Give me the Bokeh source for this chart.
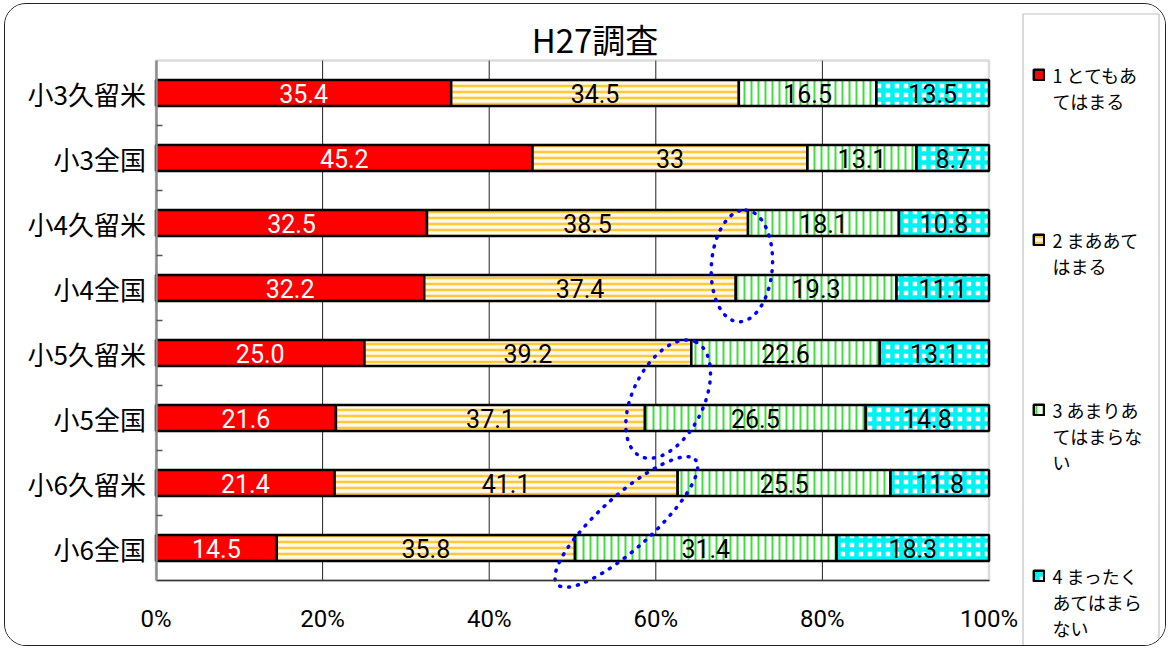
from bokeh.plotting import figure
from bokeh.models import (Range1d, FixedTicker, Legend, LegendItem, BoxAnnotation, Label)
from bokeh.core.properties import value
from bokeh.embed import file_html
from bokeh.resources import INLINE

# ---------------- data ----------------
title_text = "H27調査"
categories = ["小3久留米", "小3全国", "小4久留米", "小4全国",
              "小5久留米", "小5全国", "小6久留米", "小6全国"]
series_names = ["1 とてもあ\nてはまる",
                "2 まああて\nはまる",
                "3 あまりあ\nてはまらな\nい",
                "4 まったく\nあてはまら\nない"]
s1 = [35.4, 45.2, 32.5, 32.2, 25.0, 21.6, 21.4, 14.5]
s2 = [34.5, 33, 38.5, 37.4, 39.2, 37.1, 41.1, 35.8]
s3 = [16.5, 13.1, 18.1, 19.3, 22.6, 26.5, 25.5, 31.4]
s4 = [13.5, 8.7, 10.8, 11.1, 13.1, 14.8, 11.8, 18.3]
x_ticks = [0, 20, 40, 60, 80, 100]
x_tick_labels = ["0%", "20%", "40%", "60%", "80%", "100%"]
# pairs of neighbouring rows whose 2|3 boundary is circled (index of upper row)
highlight_rows = [2, 4, 6]

# ---------------- layout (canvas pixels) ----------------
W, H = 1162, 643
X0, X1 = 150.5, 983.5        # pixel of 0% and 100%
ROW0, PITCH = 88.5, 65       # centre of first row, row spacing
TITLE_XY = (589.5, 34.5)
LEG_BOX = (1017.5, 1153.5, 9.5, 642)     # left, right, top, bottom
LEG_X = 1026.5                            # legend swatch left
LEG_FIRST = [70.5, 235.5, 405.5, 571.5]   # centre of first line of each entry
LEG_LINE = 26
JP = "Noto Sans CJK JP"
NUM = "Roboto"
ellipse_shapes = [(112, 61, 86, -0.16), (127, 71, 64, -0.21), (186, 53, 42, -0.10)]

series = [s1, s2, s3, s4]
n = len(categories)
ypos = [n - 1 - i for i in range(n)]
totals = [sum(v[i] for v in series) for i in range(n)]
ppu = (X1 - X0) / 100.0


def dx(px):
    return (px - X0) / ppu


def dy(py):
    return (n - 1) - (py - ROW0) / PITCH


p = figure(width=W, height=H,
           x_range=Range1d(dx(0), dx(W)), y_range=Range1d(dy(H), dy(0)),
           output_backend="svg", toolbar_location=None, min_border=0)
p.styles = {"border": "1.5px solid #222", "border-radius": "22px", "overflow": "hidden",
            "margin-left": "4px", "margin-top": "3px"}
p.outline_line_color = None
p.xgrid.grid_line_color = None
p.ygrid.grid_line_color = None

# chart frame (top / right edges grey)
p.add_layout(BoxAnnotation(left=0, right=100, bottom=-0.5, top=n - 0.5, level="underlay",
                           fill_alpha=0, line_color="#8C8C8C", line_width=2.5))
grid_x = x_ticks[1:-1]
p.segment(x0=grid_x, x1=grid_x, y0=[-0.5] * len(grid_x), y1=[n - 0.5] * len(grid_x),
          line_color="#222222", line_width=1, level="underlay")

bar_styles = [
    dict(fill_color="#FF0000"),
    dict(fill_color="#FFF9E8", hatch_pattern="horizontal_line", hatch_color="#FFC83D",
         hatch_scale=6, hatch_weight=2.5),
    dict(fill_color="#FFFFFF", hatch_pattern="vertical_line", hatch_color="#3CE03C",
         hatch_scale=7, hatch_weight=2),
    dict(fill_color="#FFFFFF", hatch_pattern="cross", hatch_color="#00F2F2",
         hatch_scale=9, hatch_weight=4.5),
]
label_colors = ["#FFFFFF", "#000000", "#000000", "#000000"]

renderers = []
cum = [0.0] * n
bounds = []
for k, vals in enumerate(series):
    left = list(cum)
    right = [cum[i] + vals[i] / totals[i] * 100 for i in range(n)]
    cum = right
    bounds.append(right)
    r = p.hbar(y=ypos, left=left, right=right, height=0.4,
               line_color="#000000", line_width=2.5, **bar_styles[k])
    renderers.append(r)
    p.text(x=[(a + b) / 2 for a, b in zip(left, right)], y=ypos,
           text=[str(v) for v in vals],
           text_align="center", text_baseline="middle",
           text_font=value(NUM), text_font_size="25px",
           text_color=label_colors[k])

# dotted ellipses around the boundary between series 2 and 3
for (w, h, ang, ddy), i in zip(ellipse_shapes, highlight_rows):
    cx = (bounds[1][i] + bounds[1][i + 1]) / 2
    cy = (ypos[i] + ypos[i + 1]) / 2 + ddy
    p.ellipse(x=[cx], y=[cy], width=[w], height=[h], angle=[ang], angle_units="deg",
              width_units="screen", height_units="screen",
              fill_color=None, line_color="#0000FF", line_width=3.5,
              line_dash="1 8", line_cap="round")

# title
p.add_layout(Label(x=dx(TITLE_XY[0]), y=dy(TITLE_XY[1]), text=title_text,
                   text_align="center", text_baseline="middle",
                   text_font=JP, text_font_size="33px", text_color="#000000"))

# axes placed at the chart edges
p.xaxis.fixed_location = -0.5
p.xaxis.bounds = (0, 100)
p.xaxis.ticker = FixedTicker(ticks=x_ticks)
p.xaxis.major_label_overrides = {t: l for t, l in zip(x_ticks, x_tick_labels)}
p.xaxis.major_tick_in = 0
p.xaxis.major_tick_out = 0
p.xaxis.minor_tick_line_color = None
p.xaxis.major_label_standoff = 24
p.xaxis.major_label_text_font = NUM
p.xaxis.major_label_text_font_size = "24px"
p.xaxis.major_label_text_color = "#000000"
p.xaxis.axis_line_color = "#333333"
p.xaxis.axis_line_width = 1.5

p.yaxis.fixed_location = 0
p.yaxis.bounds = (-0.5, n - 0.5)
p.yaxis.ticker = FixedTicker(ticks=ypos, minor_ticks=[y + 0.5 for y in range(n - 1)])
p.yaxis.major_label_overrides = {ypos[i]: categories[i] for i in range(n)}
p.yaxis.major_tick_in = 0
p.yaxis.major_tick_out = 0
p.yaxis.minor_tick_in = 6
p.yaxis.minor_tick_out = 0
p.yaxis.minor_tick_line_color = "#555555"
p.yaxis.minor_tick_line_width = 1.5
p.yaxis.major_label_standoff = 10
p.yaxis.major_label_text_font = JP
p.yaxis.major_label_text_font_size = "26px"
p.yaxis.major_label_text_color = "#000000"
p.yaxis.axis_line_color = "#8C8C8C"
p.yaxis.axis_line_width = 2.5

# ---------------- legend ----------------
p.add_layout(BoxAnnotation(left=dx(LEG_BOX[0]), right=dx(LEG_BOX[1]),
                           top=dy(LEG_BOX[2]), bottom=dy(LEG_BOX[3]),
                           fill_alpha=0, line_color="#333333", line_width=1.2))
blank = p.hbar(y=[], left=[], right=[], height=0.1, fill_alpha=0, line_alpha=0)
ITEM_H = 26
for k, name in enumerate(series_names):
    for j, part in enumerate(name.split("\n")):
        centre = LEG_FIRST[k] + j * LEG_LINE
        lg = Legend(items=[LegendItem(label=part, renderers=[renderers[k] if j == 0 else blank])],
                    location=(LEG_X, H - centre - ITEM_H / 2),
                    border_line_color=None, background_fill_alpha=0,
                    padding=0, spacing=0, margin=0,
                    glyph_width=13, glyph_height=13, label_standoff=8,
                    label_height=ITEM_H,
                    label_text_font=JP, label_text_font_size="18px",
                    label_text_color="#000000")
        p.add_layout(lg)

open("out.html", "w").write(file_html(p, INLINE))
